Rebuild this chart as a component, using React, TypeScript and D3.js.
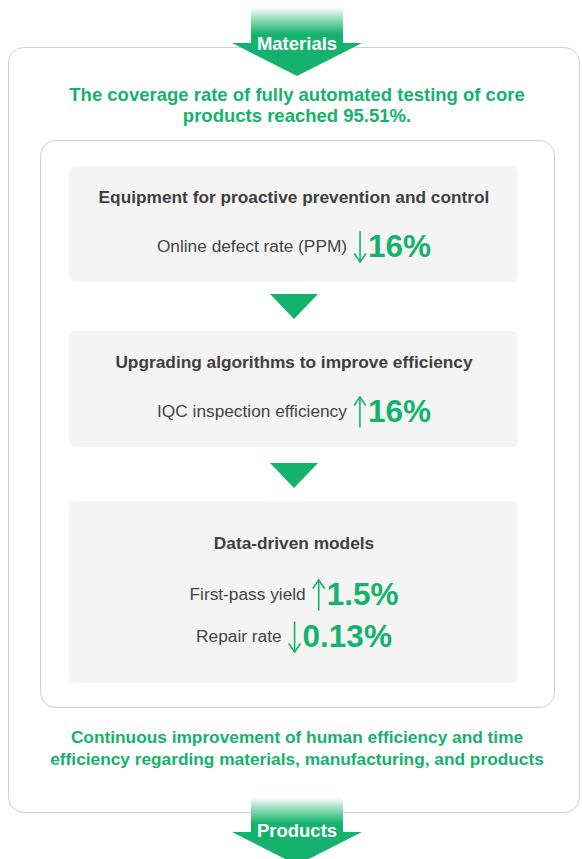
import { useMemo } from "react";
import * as d3 from "d3";

const stageTitles = [
  "Equipment for proactive prevention and control",
  "Upgrading algorithms to improve efficiency",
  "Data-driven models",
];
const metricStage = [0, 1, 2, 2];
const metricLabels = [
  "Online defect rate (PPM)",
  "IQC inspection efficiency",
  "First-pass yield",
  "Repair rate",
];
const metricValues = ["16%", "16%", "1.5%", "0.13%"];
const metricDirections = ["down", "up", "up", "down"];
const headlineLines = [
  "The coverage rate of fully automated testing of core",
  "products reached 95.51%.",
];
const footerLines = [
  "Continuous improvement of human efficiency and time",
  "efficiency regarding materials, manufacturing, and products",
];
const topLabel = "Materials";
const bottomLabel = "Products";

const W = 582;
const H = 859;
const GREEN = "#14b26c";
const FONT = "'Liberation Sans', Arial, Helvetica, sans-serif";

const measure = (() => {
  let ctx: CanvasRenderingContext2D | null = null;
  return (text: string, font: string) => {
    if (!ctx) ctx = document.createElement("canvas").getContext("2d");
    if (!ctx) return text.length * 8;
    ctx.font = font;
    return ctx.measureText(text).width;
  };
})();

function BigArrow({ cx, top, headY, tip, label, labelY }: any) {
  const id = "grad" + label;
  const shaft = [cx - 46, cx + 46];
  const head = [cx - 65, cx + 65];
  const path = d3.path();
  path.moveTo(shaft[0], top);
  path.lineTo(shaft[1], top);
  path.lineTo(shaft[1], headY);
  path.lineTo(head[1], headY);
  path.lineTo(cx, tip);
  path.lineTo(head[0], headY);
  path.lineTo(shaft[0], headY);
  path.closePath();
  return (
    <g>
      <defs>
        <linearGradient id={id} x1="0" y1={top} x2="0" y2={headY} gradientUnits="userSpaceOnUse">
          <stop offset="0" stopColor="#ffffff" />
          <stop offset="0.75" stopColor={GREEN} />
          <stop offset="1" stopColor={GREEN} />
        </linearGradient>
      </defs>
      <path d={path.toString()} fill={`url(#${id})`} />
      <text x={cx} y={labelY} textAnchor="middle" fill="#fff" fontWeight="bold" fontSize={18.5} fontFamily={FONT}>
        {label}
      </text>
    </g>
  );
}

function ThinArrow({ x, y0, y1, dir }: any) {
  const top = y0, bot = y1;
  const tipY = dir === "down" ? bot : top;
  const s = dir === "down" ? -1 : 1;
  return (
    <g stroke={GREEN} strokeWidth={1.6} fill="none" strokeLinecap="round" strokeLinejoin="round">
      <line x1={x} y1={top} x2={x} y2={bot} />
      <polyline points={`${x - 5.5},${tipY + s * 8} ${x},${tipY} ${x + 5.5},${tipY + s * 8}`} />
    </g>
  );
}

export default function App() {
  const cx = 294;
  const panels = [
    { y0: 166, y1: 282 },
    { y0: 331, y1: 447 },
    { y0: 501, y1: 683 },
  ];
  const titleBase = [203, 368, 549];
  const valueBase = [257, 422, 605, 647];

  const rows = useMemo(
    () =>
      metricLabels.map((label, i) => {
        const wl = measure(label, `17.3px ${FONT}`);
        const wv = measure(metricValues[i], `bold 31.5px ${FONT}`);
        const g1 = 13, g2 = 8;
        const total = wl + g1 + g2 + wv;
        const start = cx - total / 2;
        return { label, wl, start, arrowX: start + wl + g1, valueX: start + wl + g1 + g2 };
      }),
    []
  );

  const tri = (y: number) => {
    const p = d3.path();
    p.moveTo(cx - 24, y);
    p.lineTo(cx + 24, y);
    p.lineTo(cx, y + 25);
    p.closePath();
    return p.toString();
  };

  return (
    <svg width={W} height={H} style={{ position: "absolute", left: 0, top: 0, background: "#fff" }}>
      <rect x={8.5} y={47.5} width={571} height={765} rx={15} fill="#fff" stroke="#cfcfcf" />
      <rect x={40.5} y={140.5} width={514} height={567} rx={15} fill="#fff" stroke="#cfcfcf" />

      {headlineLines.map((t, i) => (
        <text key={t} x={cx + 3} y={101 + i * 21} textAnchor="middle" fill={GREEN} fontWeight="bold" fontSize={18.5} fontFamily={FONT}>
          {t}
        </text>
      ))}

      {panels.map((p, i) => (
        <g key={i}>
          <rect x={69} y={p.y0} width={449} height={p.y1 - p.y0} rx={6} fill="#f4f4f4" />
          <text x={cx} y={titleBase[i]} textAnchor="middle" fill="#404040" fontWeight="bold" fontSize={17.3} fontFamily={FONT}>
            {stageTitles[i]}
          </text>
        </g>
      ))}

      <path d={tri(294)} fill={GREEN} />
      <path d={tri(463)} fill={GREEN} />

      {rows.map((r, i) => (
        <g key={i} data-stage={metricStage[i]}>
          <text x={r.start} y={valueBase[i] - 5} fill="#444" fontSize={17.3} fontFamily={FONT}>
            {r.label}
          </text>
          <ThinArrow x={r.arrowX} y0={valueBase[i] - 25} y1={valueBase[i] + 5} dir={metricDirections[i]} />
          <text x={r.valueX} y={valueBase[i]} fill={GREEN} fontWeight="bold" fontSize={31.5} fontFamily={FONT}>
            {metricValues[i]}
          </text>
        </g>
      ))}

      {footerLines.map((t, i) => (
        <text key={t} x={cx + 3} y={743 + i * 22} textAnchor="middle" fill={GREEN} fontWeight="bold" fontSize={17.3} fontFamily={FONT}>
          {t}
        </text>
      ))}

      <BigArrow cx={297} top={7} headY={43} tip={76} label={topLabel} labelY={50} />
      <BigArrow cx={297} top={797} headY={832} tip={865} label={bottomLabel} labelY={837} />
    </svg>
  );
}
